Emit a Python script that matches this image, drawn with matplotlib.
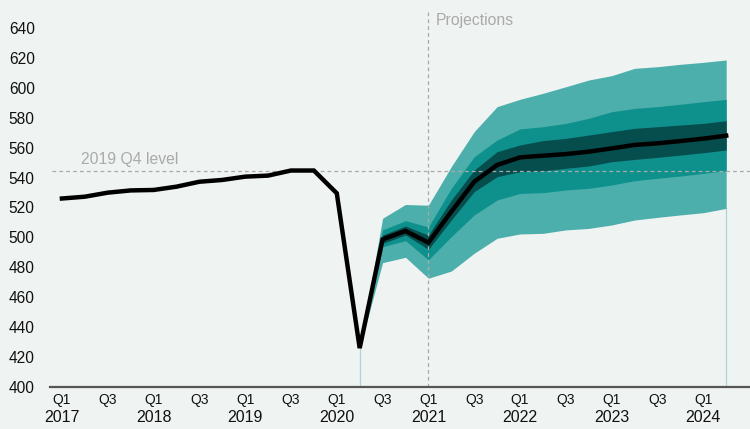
import matplotlib
matplotlib.use("Agg")
import matplotlib.pyplot as plt
import numpy as np

plt.rcParams['font.family'] = ['Liberation Sans', 'DejaVu Sans']

# Quarters from 2017 Q1 to 2024 Q2
quarters = [f"{y} Q{q}" for y in range(2017, 2025) for q in range(1, 5)][:30]
years = ["2017", "2018", "2019", "2020", "2021", "2022", "2023", "2024"]

gdp = [526, 527.2, 529.9, 531.4, 531.7, 533.9, 537.2, 538.4, 540.6, 541.3,
       544.7, 544.7, 529.5, 426, 498.7, 504.3, 496.5, 517.2, 537.2, 548.4,
       553.5, 554.6, 555.7, 557.3, 559.5, 561.8, 562.9, 564.4, 566, 568]

# fan chart bands from 2020 Q2 onwards
band_start = 13
outer_hi = [426, 512.8, 522, 521.5, 547.3, 570.7, 587.4, 592.3, 596.3, 600.7, 605.2, 608.1, 613, 614.1, 615.7, 617, 618.6]
mid_hi   = [426, 505, 511.2, 507, 532.8, 553.9, 565.1, 572.5, 574, 576.2, 579.6, 584, 586.2, 587.4, 589, 590.7, 592.3]
inner_hi = [426, 501.6, 507.6, 501.5, 525, 545, 557.3, 561.8, 564.7, 566.2, 568.4, 570.7, 572.9, 574, 575.1, 576.2, 578]
inner_lo = [426, 496, 501.6, 492, 511.6, 530.6, 540.6, 543.9, 544.4, 546.2, 547.7, 550.6, 552.1, 553.5, 555, 556.6, 558.4]
mid_lo   = [426, 493.8, 497.8, 485, 500.5, 515, 525, 529.4, 529.9, 531.7, 532.8, 535, 537.9, 539.5, 541, 542.8, 544.6]
outer_lo = [426, 483.1, 486.7, 472.7, 477.5, 489.4, 499.4, 502.3, 502.7, 505, 506, 508.3, 511.6, 513.4, 515, 516.5, 519.4]

level_2019q4 = 544.7
proj_start = 16  # 2021 Q1

bg = "#EFF3F2"
c_outer = "#4DAFAB"
c_mid = "#0E918C"
c_inner = "#064D4E"

fig = plt.figure(figsize=(7.5, 4.29), dpi=100, facecolor=bg)
ax = fig.add_axes([50/750, 1-387/429, 700/750, (387-10)/429], facecolor=bg)

x = np.arange(len(gdp))
xb = np.arange(band_start, band_start + len(outer_hi))

ax.fill_between(xb, outer_lo, outer_hi, color=c_outer, lw=0, zorder=2)
ax.fill_between(xb, mid_lo, mid_hi, color=c_mid, lw=0, zorder=3)
ax.fill_between(xb, inner_lo, inner_hi, color=c_inner, lw=0, zorder=4)

# thin edges at start and end of fan
ax.plot([band_start, band_start], [400, gdp[band_start]], color="#A8D8D5", lw=0.9, zorder=1)
ax.plot([xb[-1], xb[-1]], [400, outer_lo[-1]], color="#A8D8D5", lw=0.9, zorder=1)

ax.plot(x, gdp, color="black", lw=3.2, zorder=6, solid_joinstyle="miter")

ax.axhline(level_2019q4, color="#AAAAAA", lw=0.9, ls=(0, (3, 2.5)), zorder=5, xmin=0.003)
ax.axvline(proj_start, color="#AAAAAA", lw=0.9, ls=(0, (3, 2.5)), zorder=5)

ax.text(0.85, level_2019q4 + 2.5, "2019 Q4 level", color="#AAAAAA", fontsize=11.3, va="bottom", ha="left")
ax.text(proj_start + 0.3, 645, "Projections", color="#AAAAAA", fontsize=11.3, va="center", ha="left")

ax.set_xlim(-0.52, 30.04)
ax.set_ylim(400, 652)
ax.set_yticks(np.arange(400, 641, 20))
ax.tick_params(axis="y", length=0, labelsize=11.2, pad=11, labelcolor="#111111")

qticks = np.arange(0, 30, 2)
qlabels = ["Q1" if i % 4 == 0 else "Q3" for i in qticks]
ax.set_xticks(qticks)
ax.set_xticklabels(qlabels)
ax.tick_params(axis="x", length=0, labelsize=10, pad=4, labelcolor="#111111")
for k, yr in enumerate(years):
    ax.text(k * 4, -0.08, yr, transform=ax.get_xaxis_transform(), ha="center", va="center",
            fontsize=11.5, color="#111111")

for s in ["left", "right", "top"]:
    ax.spines[s].set_visible(False)
ax.spines["bottom"].set_color("#555555")
ax.spines["bottom"].set_linewidth(1.6)
ax.spines["bottom"].set_zorder(7)

fig.savefig("out.png", dpi=100, facecolor=bg)
